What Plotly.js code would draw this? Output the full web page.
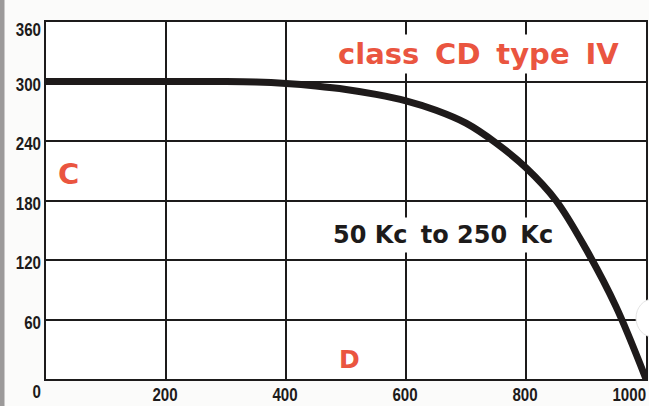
<!DOCTYPE html>
<html>
<head>
<meta charset="utf-8">
<script src="https://cdn.plot.ly/plotly-3.0.1.min.js"></script>
<style>
  html, body { margin: 0; padding: 0; background: #fbfbfa; }
  #chart { width: 649px; height: 406px; }
</style>
</head>
<body>
<div id="chart"></div>
<script>
// Curve data
const curveX = [0, 100, 200, 300, 350, 400, 450, 500, 550, 600, 650, 700, 750, 800, 850, 900, 950, 1000];
const curveY = [300, 300, 300, 300, 299.5, 298, 295.5, 292, 287, 280.5, 271, 258, 238, 213, 180, 131, 73, 0];

// Tick labels
const xTickVals = [200, 400, 600, 800, 1000];
const xTickText = ['200', '400', '600', '800', '1000'];
const yTickVals = [360, 300, 240, 180, 120, 60, 0];
const yTickText = ['360', '300', '240', '180', '120', '60', '0'];

const tickFont = { family: '"Liberation Sans", Arial, sans-serif', size: 18, color: '#1d1b1b', weight: 'bold' };
const red = '#ea5540';
const txtFont = '"DejaVu Sans", sans-serif';

const annotations = [];
const tickAnchors = [];
xTickVals.forEach((v, i) => {
  const last = i === xTickVals.length - 1;
  annotations.push({
    x: v, y: 0, xref: 'x', yref: 'paper',
    text: xTickText[i], showarrow: false,
    xanchor: last ? 'right' : 'center', yanchor: 'top',
    xshift: last ? 2 : -1, yshift: -4,
    font: tickFont
  });
  tickAnchors.push(last ? 'right' : 'center');
});
yTickVals.forEach((v, i) => {
  let ys = -3;
  if (v === 360) ys = -8;
  if (v === 0) ys = -13;
  annotations.push({
    x: 0, y: v, xref: 'paper', yref: 'y',
    text: yTickText[i], showarrow: false,
    xanchor: 'right', yanchor: 'middle',
    xshift: -3, yshift: ys,
    font: tickFont
  });
  tickAnchors.push('right');
});
const nTicks = annotations.length;

annotations.push({
  x: 721, y: 328, xref: 'x', yref: 'y', text: 'class\u2009 CD\u2009 type\u2009 IV', showarrow: false,
  font: { family: txtFont, size: 29, color: red, weight: 'bold' },
  bgcolor: '#ffffff', borderpad: 2
});
annotations.push({
  x: 37, y: 207, xref: 'x', yref: 'y', text: 'C', showarrow: false,
  font: { family: txtFont, size: 29, color: red, weight: 'bold' }
});
annotations.push({
  x: 505, y: 20, xref: 'x', yref: 'y', text: 'D', showarrow: false,
  font: { family: txtFont, size: 25, color: red, weight: 'bold' }
});
annotations.push({
  x: 662, y: 145, xref: 'x', yref: 'y', text: '50 Kc\u2009 to 250\u2009 Kc', showarrow: false,
  font: { family: txtFont, size: 24, color: '#1d1b1b', weight: 'bold' },
  bgcolor: '#ffffff', borderpad: 3
});

const trace = {
  x: curveX, y: curveY, type: 'scatter', mode: 'lines',
  line: { color: '#1e1a1a', width: 7, shape: 'spline', smoothing: 1 },
  hoverinfo: 'skip'
};

const layout = {
  width: 649, height: 406,
  margin: { l: 46, r: 3, t: 22, b: 27 },
  paper_bgcolor: '#fbfbfa',
  plot_bgcolor: '#ffffff',
  showlegend: false,
  xaxis: {
    range: [0, 1000], tick0: 0, dtick: 200, showticklabels: false,
    showgrid: true, gridcolor: '#1d1b1b', gridwidth: 2,
    zeroline: false, showline: true, linecolor: '#1d1b1b', linewidth: 2, mirror: true,
    ticks: ''
  },
  yaxis: {
    range: [0, 360], tick0: 0, dtick: 60, showticklabels: false,
    showgrid: true, gridcolor: '#1d1b1b', gridwidth: 2,
    zeroline: false, showline: true, linecolor: '#1d1b1b', linewidth: 2, mirror: true,
    ticks: ''
  },
  annotations: annotations,
  shapes: [
    { type: 'rect', xref: 'paper', yref: 'paper', x0: -46/600, x1: -41.5/600, y0: -27/357, y1: 379/357,
      fillcolor: '#9c9a9a', line: { width: 0 }, layer: 'below' },
    { type: 'circle', xref: 'paper', yref: 'paper', x0: 636/600 - 46/600, x1: 670/600 - 46/600,
      y0: (379 - 337)/357, y1: (379 - 299)/357,
      fillcolor: '#ffffff', line: { color: '#e4e4e4', width: 1 }, layer: 'above' }
  ]
};

Plotly.newPlot('chart', [trace], layout, { displayModeBar: false, staticPlot: true }).then(gd => {
  // condense the tick-label glyphs horizontally (narrow typeface look)
  const sx = 0.84;
  gd.querySelectorAll('g.annotation').forEach(g => {
    const idx = +g.getAttribute('data-index');
    if (!(idx < nTicks)) return;
    const t = g.querySelector('text');
    if (!t) return;
    const bb = t.getBBox();
    const a = tickAnchors[idx];
    const ax = a === 'right' ? bb.x + bb.width : bb.x + bb.width / 2;
    t.setAttribute('transform', `translate(${ax},0) scale(${sx},1) translate(${-ax},0)`);
  });
});
</script>
</body>
</html>
